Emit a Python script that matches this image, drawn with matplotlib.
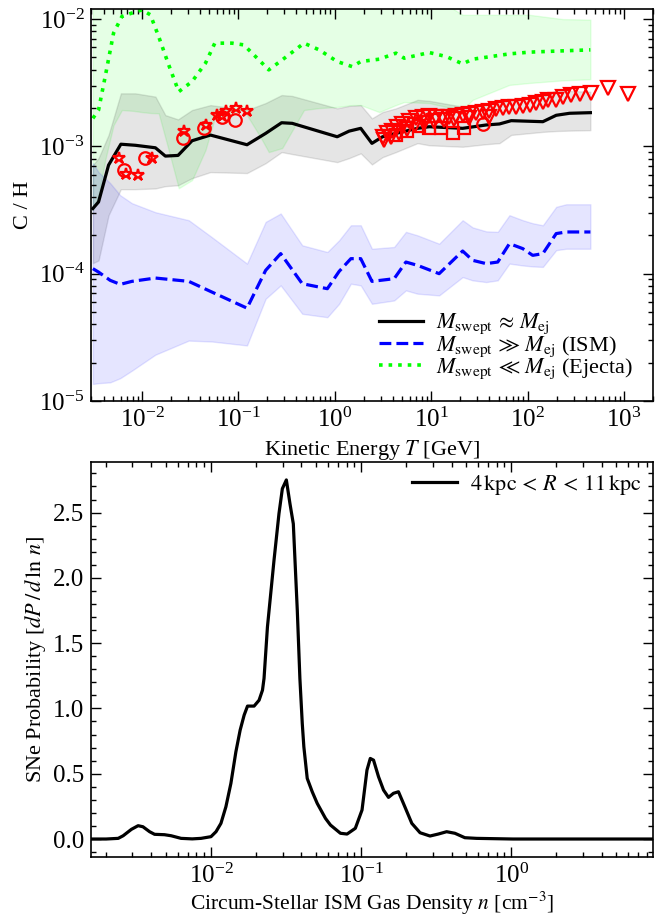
import numpy as np
import matplotlib
matplotlib.use("Agg")
import matplotlib.pyplot as plt
from matplotlib.ticker import LogLocator, MultipleLocator, NullFormatter

plt.rcParams['font.family'] = ['Liberation Serif', 'DejaVu Serif']
plt.rcParams['mathtext.fontset'] = 'stix'

# ---- top panel: C/H ratio vs kinetic energy ----
# M_swept ~ M_ej (black, grey band)
e_mid = [0.0031, 0.00355, 0.00451, 0.00605, 0.00854, 0.0138, 0.0175, 0.0237, 0.0331, 0.0514,
         0.123, 0.192, 0.281, 0.362, 1.06, 1.41, 1.86, 2.43, 3.13, 4.31,
         7.22, 9.55, 21.2, 37.2, 51.1, 67.6, 144, 198, 273, 448]
ch_mid = [3.25e-4, 3.66e-4, 7.13e-4, 1.04e-3, 1.02e-3, 9.75e-4, 8.39e-4, 8.49e-4, 1.107e-3, 1.227e-3,
          1.03e-3, 1.265e-3, 1.534e-3, 1.517e-3, 1.19e-3, 1.318e-3, 1.386e-3, 1.056e-3, 1.19e-3, 1.265e-3,
          1.386e-3, 1.427e-3, 1.386e-3, 1.473e-3, 1.50e-3, 1.592e-3, 1.563e-3, 1.755e-3, 1.82e-3, 1.84e-3]
ch_mid_hi = [7.13e-4, 8.09e-4, 1.23e-3, 2.61e-3, 2.61e-3, 2.46e-3, 1.76e-3, 1.63e-3, 1.93e-3, 2.11e-3,
             1.93e-3, 2.19e-3, 2.53e-3, 2.49e-3, 1.99e-3, 2.08e-3, 2.11e-3, 1.66e-3, 1.86e-3, 1.99e-3,
             2.32e-3, 2.28e-3, 2.05e-3, 2.15e-3, 2.18e-3, 2.32e-3, 2.46e-3, 2.77e-3, 2.72e-3, 2.69e-3]
ch_mid_lo = [1.21e-4, 1.27e-4, 2.88e-4, 4.61e-4, 4.61e-4, 4.67e-4, 4.87e-4, 4.95e-4, 5.63e-4, 6.28e-4,
             6.17e-4, 7.38e-4, 9.02e-4, 8.70e-4, 7.52e-4, 8.09e-4, 8.81e-4, 7.21e-4, 8.23e-4, 9.02e-4,
             1.06e-3, 1.02e-3, 9.93e-4, 1.04e-3, 1.06e-3, 1.23e-3, 1.30e-3, 1.32e-3, 1.33e-3, 1.34e-3]

# M_swept >> M_ej (ISM, blue)
e_ism = [0.0031, 0.00355, 0.00469, 0.00596, 0.00787, 0.0138, 0.0306, 0.0534, 0.123, 0.192,
         0.275, 0.460, 0.838, 1.11, 1.47, 1.86, 2.43, 4.13, 5.47, 7.22,
         12.1, 21.2, 26.9, 37.2, 49.0, 64.8, 89.1, 113, 144, 198, 252, 448]
ch_ism = [1.095e-4, 1.029e-4, 8.86e-5, 8.24e-5, 8.70e-5, 9.24e-5, 8.70e-5, 7.16e-5, 5.36e-5, 1.062e-4,
          1.437e-4, 8.34e-5, 7.62e-5, 1.042e-4, 1.312e-4, 1.312e-4, 8.70e-5, 9.13e-5, 1.234e-4, 1.162e-4,
          1.0e-4, 1.507e-4, 1.273e-4, 1.199e-4, 1.234e-4, 1.722e-4, 1.573e-4, 1.393e-4, 1.437e-4, 2.065e-4,
          2.126e-4, 2.126e-4]
ch_ism_hi = [7.39e-4, 6.27e-4, 5.14e-4, 4.13e-4, 3.58e-4, 3.04e-4, 2.63e-4, 1.93e-4, 1.20e-4, 2.55e-4,
             2.97e-4, 1.67e-4, 1.48e-4, 1.83e-4, 2.40e-4, 2.40e-4, 1.57e-4, 1.62e-4, 2.13e-4, 2.00e-4,
             1.72e-4, 2.63e-4, 2.31e-4, 2.15e-4, 2.13e-4, 2.88e-4, 2.63e-4, 2.49e-4, 2.40e-4, 3.35e-4,
             3.51e-4, 3.51e-4]
ch_ism_lo = [1.36e-5, 1.38e-5, 1.40e-5, 1.51e-5, 1.73e-5, 2.31e-5, 2.98e-5, 2.93e-5, 2.73e-5, 6.35e-5,
             8.09e-5, 4.84e-5, 4.55e-5, 5.80e-5, 8.34e-5, 8.09e-5, 5.80e-5, 6.16e-5, 7.39e-5, 6.96e-5,
             6.75e-5, 9.40e-5, 8.86e-5, 8.59e-5, 8.86e-5, 1.20e-4, 1.16e-4, 1.14e-4, 1.13e-4, 1.53e-4,
             1.57e-4, 1.57e-4]

# M_swept << M_ej (ejecta, green)
e_ej = [0.0031, 0.00355, 0.00416, 0.00508, 0.0062, 0.0082, 0.0100, 0.01223, 0.01492, 0.01895,
        0.0241, 0.0331, 0.0456, 0.057, 0.0862, 0.114, 0.170, 0.207, 0.285, 0.480,
        0.689, 1.06, 1.52, 1.86, 2.89, 4.31, 5.25, 9.55, 14.3, 21.2,
        26.9, 64.8, 105, 232, 448]
ch_ej = [1.66e-3, 1.93e-3, 3.53e-3, 7.76e-3, 1.048e-2, 1.127e-2, 1.18e-2, 1.081e-2, 7.29e-3, 4.37e-3,
         2.69e-3, 3.23e-3, 4.50e-3, 6.47e-3, 6.47e-3, 6.27e-3, 4.64e-3, 3.99e-3, 4.78e-3, 6.47e-3,
         5.73e-3, 4.64e-3, 4.23e-3, 4.64e-3, 4.84e-3, 5.40e-3, 4.93e-3, 5.46e-3, 5.08e-3, 4.45e-3,
         4.84e-3, 5.33e-3, 5.50e-3, 5.63e-3, 5.73e-3]
ch_ej_hi = [3.0e-2, 3.2e-2, 4.0e-2, 5.5e-2, 6.0e-2, 6.0e-2, 5.8e-2, 5.5e-2, 4.5e-2, 3.2e-2,
            2.2e-2, 2.4e-2, 2.8e-2, 3.2e-2, 3.2e-2, 3.0e-2, 2.5e-2, 2.2e-2, 2.4e-2, 2.8e-2,
            2.6e-2, 2.3e-2, 2.1e-2, 2.2e-2, 2.2e-2, 2.3e-2, 2.1e-2, 1.6e-2, 1.3e-2, 1.08e-2,
            1.08e-2, 1.08e-2, 1.08e-2, 1.0e-2, 9.9e-3]
ch_ej_lo = [3.15e-4, 4.13e-4, 7.80e-4, 1.47e-3, 1.93e-3, 1.90e-3, 1.86e-3, 1.83e-3, 1.82e-3, 9.35e-4,
            4.69e-4, 5.43e-4, 9.35e-4, 1.67e-3, 1.86e-3, 1.93e-3, 1.18e-3, 9.02e-4, 9.70e-4, 1.93e-3,
            2.00e-3, 2.04e-3, 2.11e-3, 2.11e-3, 1.86e-3, 2.11e-3, 2.23e-3, 2.19e-3, 2.04e-3, 1.93e-3,
            2.32e-3, 3.04e-3, 3.15e-3, 3.30e-3, 3.37e-3]

# measurements
star_e = [0.00572, 0.00682, 0.00909, 0.0127, 0.0275, 0.0465, 0.0602, 0.0669, 0.075, 0.0935, 0.1235]
star_ch = [8.09e-4, 6.11e-4, 5.94e-4, 8.09e-4, 1.31e-3, 1.485e-3, 1.76e-3, 1.72e-3, 1.91e-3, 2.00e-3, 1.91e-3]
circ_e = [0.00653, 0.0108, 0.0269, 0.0443, 0.0669, 0.0913, 34.8]
circ_ch = [6.51e-4, 8.16e-4, 1.16e-3, 1.39e-3, 1.70e-3, 1.60e-3, 1.50e-3]
sq_e = [4.31, 5.60, 7.40, 9.55, 12.6, 16.7, 21.7]
sq_ch = [1.23e-3, 1.32e-3, 1.445e-3, 1.386e-3, 1.40e-3, 1.28e-3, 1.386e-3]
tri_e = [3.13, 3.27, 3.52, 3.85, 3.97, 4.47, 4.66, 5.04, 5.64, 5.92, 6.83, 6.95, 8.14, 8.48, 9.55,
         10.8, 11.2, 13.1, 13.7, 15.4, 17.4, 18.1, 21.2, 24.9, 24.9, 29.2, 34.2, 40.2, 40.2, 47.2,
         55.2, 64.8, 76.1, 89.2, 105, 123, 144, 162, 198, 232, 284, 346, 458, 682, 1100]
tri_ch = [1.19e-3, 1.12e-3, 1.266e-3, 1.18e-3, 1.327e-3, 1.426e-3, 1.27e-3, 1.498e-3, 1.37e-3, 1.59e-3,
          1.47e-3, 1.66e-3, 1.71e-3, 1.53e-3, 1.73e-3, 1.58e-3, 1.71e-3, 1.71e-3, 1.60e-3, 1.71e-3,
          1.64e-3, 1.73e-3, 1.76e-3, 1.80e-3, 1.66e-3, 1.84e-3, 1.87e-3, 1.91e-3, 1.71e-3, 1.96e-3,
          1.99e-3, 2.03e-3, 2.05e-3, 2.08e-3, 2.11e-3, 2.18e-3, 2.24e-3, 2.31e-3, 2.31e-3, 2.46e-3,
          2.54e-3, 2.58e-3, 2.64e-3, 2.86e-3, 2.57e-3]

# ---- bottom panel: SNe density distribution ----
dens = [0.0016, 0.0020, 0.00241, 0.0026, 0.00295, 0.00327, 0.00352, 0.0039, 0.00421, 0.0049,
        0.00543, 0.00632, 0.0075, 0.00859, 0.0100, 0.0108, 0.01165, 0.01257, 0.01357, 0.01465,
        0.01564, 0.01663, 0.01751, 0.01937, 0.02091, 0.02203, 0.02256, 0.02377, 0.02629, 0.02837,
        0.02988, 0.03177, 0.03357, 0.03535, 0.03757, 0.0391, 0.04055, 0.04155, 0.04376, 0.04724,
        0.051, 0.0579, 0.0625, 0.0728, 0.0806, 0.0915, 0.1014, 0.1094, 0.1151, 0.121,
        0.1306, 0.141, 0.1522, 0.1642, 0.1773, 0.1913, 0.2176, 0.247, 0.2876, 0.3266,
        0.3712, 0.4213, 0.4909, 0.5869, 1.026, 8.8]
prob = [0.0, 0.0, 0.005, 0.025, 0.074, 0.102, 0.094, 0.056, 0.036, 0.033,
        0.025, 0.005, 0.001, 0.005, 0.018, 0.056, 0.12, 0.247, 0.426, 0.668,
        0.834, 0.949, 1.018, 1.018, 1.063, 1.14, 1.23, 1.624, 2.135, 2.492,
        2.683, 2.75, 2.569, 2.414, 1.752, 1.23, 0.885, 0.706, 0.464, 0.362,
        0.273, 0.158, 0.107, 0.044, 0.038, 0.082, 0.222, 0.528, 0.617, 0.604,
        0.477, 0.375, 0.319, 0.35, 0.362, 0.273, 0.12, 0.048, 0.023, 0.038,
        0.056, 0.044, 0.01, 0.005, 0.0, 0.0]

fig = plt.figure(figsize=(6.64, 9.19), dpi=100)
ax1 = fig.add_axes([0.1378, 0.5637, 0.8457, 0.4265])
ax2 = fig.add_axes([0.1378, 0.0675, 0.8457, 0.4298])

ax1.fill_between(e_ej, ch_ej_lo, ch_ej_hi, color='lime', alpha=0.1)
ax1.fill_between(e_mid, ch_mid_lo, ch_mid_hi, color='k', alpha=0.1)
ax1.fill_between(e_ism, ch_ism_lo, ch_ism_hi, color='blue', alpha=0.1)

ax1.plot(e_mid, ch_mid, color='k', lw=2.3, ls='-',
         label=r'$M_{\mathrm{swept}}\,\approx\,M_{\mathrm{ej}}$')
ax1.plot(e_ism, ch_ism, color='blue', lw=2.3, ls='--',
         label=r'$M_{\mathrm{swept}}\,\gg\,M_{\mathrm{ej}}$ (ISM)')
ax1.plot(e_ej, ch_ej, color='lime', lw=2.6, ls=':',
         label=r'$M_{\mathrm{swept}}\,\ll\,M_{\mathrm{ej}}$ (Ejecta)')

mk = dict(ls='none', mfc='none', mec='red', mew=1.6)
ax1.plot(star_e, star_ch, marker='*', ms=9, **mk)
ax1.plot(circ_e, circ_ch, marker='o', ms=9, **mk)
ax1.plot(sq_e, sq_ch, marker='s', ms=8, **mk)
ax1.plot(tri_e, tri_ch, marker='v', ms=10, **mk)

ax1.set_xscale('log')
ax1.set_yscale('log')
ax1.set_xlim(3e-3, 2e3)
ax1.set_ylim(1e-5, 1.2e-2)
ax1.set_xlabel(r'Kinetic Energy $T$ [GeV]', fontsize=16)
ax1.set_ylabel('C / H', fontsize=16)
ax1.legend(loc='lower right', frameon=False, fontsize=16, handlelength=2.0,
           handletextpad=0.6, labelspacing=-0.1, borderaxespad=0.5)

ax2.plot(dens, prob, color='k', lw=2.3, label=r'$4\,\mathrm{kpc}\,<\,R\,<\,11\,\mathrm{kpc}$')
ax2.set_xscale('log')
ax2.set_xlim(1.6e-3, 8.8)
ax2.yaxis.set_major_locator(MultipleLocator(0.5))
ax2.yaxis.set_minor_locator(MultipleLocator(0.1))
ax2.set_xlabel(r'Circum-Stellar ISM Gas Density $n$ [cm$^{-3}$]', fontsize=15.5, labelpad=1)
ax2.set_ylabel(r'SNe Probability [$dP\,/\,d\,\ln\,n$]', fontsize=16)
ax2.legend(loc='upper right', frameon=False, fontsize=16, handlelength=2.0,
           handletextpad=0.6, borderaxespad=0.1)

for ax in (ax1, ax2):
    ax.tick_params(which='both', direction='in', top=True, right=True, labelsize=18, pad=5)
    ax.tick_params(which='major', length=7, width=1)
    ax.tick_params(which='minor', length=3.5, width=1)
    ax.xaxis.set_major_locator(LogLocator(base=10, numticks=20))
    ax.xaxis.set_minor_locator(LogLocator(base=10, subs=np.arange(2, 10), numticks=20))
    ax.xaxis.set_minor_formatter(NullFormatter())
    for s in ax.spines.values():
        s.set_linewidth(1.2)

ax1.yaxis.set_major_locator(LogLocator(base=10, numticks=20))
ax1.yaxis.set_minor_locator(LogLocator(base=10, subs=np.arange(2, 10), numticks=20))
ax1.yaxis.set_minor_formatter(NullFormatter())

fig.savefig('out.png', dpi=100)
